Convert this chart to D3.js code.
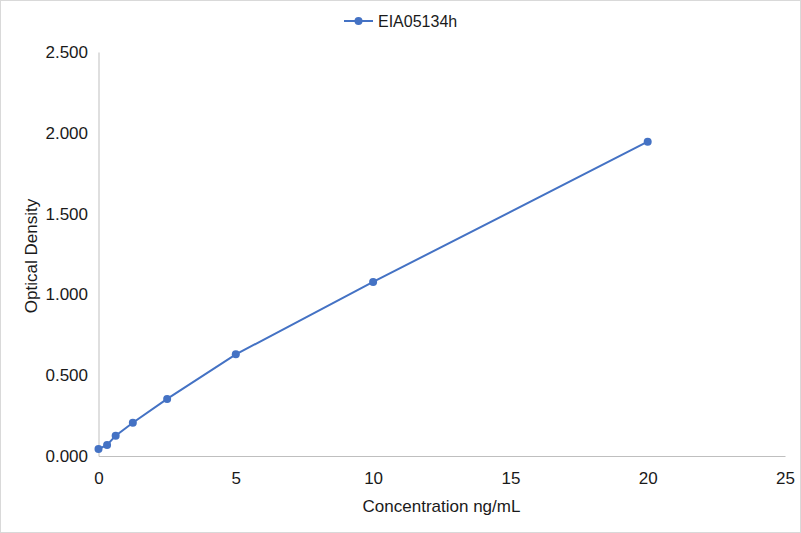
<!DOCTYPE html>
<html><head><meta charset="utf-8">
<script src="https://cdn.jsdelivr.net/npm/d3@7"></script>
<style>body{margin:0;background:#fff}svg{display:block}</style>
</head><body>
<script>
const seriesName = "EIA05134h";
const concentrations = [0, 0.3125, 0.625, 1.25, 2.5, 5, 10, 20];
const densities = [0.043, 0.068, 0.126, 0.206, 0.353, 0.629, 1.077, 1.945];
const xTicks = [0, 5, 10, 15, 20, 25];
const yTicks = [0, 0.5, 1, 1.5, 2, 2.5];
const xTitle = "Concentration ng/mL";
const yTitle = "Optical Density";

const W = 801, H = 533;
const m = {left: 98.5, right: 785, top: 52, bottom: 456};
const color = "#4472c4";
const textColor = "#1a1a1a";
const font = "Liberation Sans, Arial, sans-serif";

const svg = d3.select("body").append("svg").attr("width", W).attr("height", H);
svg.append("rect").attr("x",0.5).attr("y",0.5).attr("width",W-1).attr("height",H-1)
  .attr("fill","#fff").attr("stroke","#d9d9d9");

const x = d3.scaleLinear().domain([0,25]).range([m.left, m.right]);
const y = d3.scaleLinear().domain([0,2.5]).range([m.bottom, m.top]);

const xAxis = svg.append("g").attr("transform",`translate(0,${m.bottom})`)
  .call(d3.axisBottom(x).tickValues(xTicks).tickSize(0).tickFormat(d3.format("d")));
const yAxis = svg.append("g").attr("transform",`translate(${m.left},0)`)
  .call(d3.axisLeft(y).tickValues(yTicks).tickSize(0).tickPadding(10.5).tickFormat(d3.format(".3f")));
[xAxis, yAxis].forEach(a => {
  a.select(".domain").attr("stroke","#bfbfbf").attr("stroke-width",1);
  a.selectAll("text").attr("font-family",font).attr("font-size",17).attr("fill",textColor);
});
xAxis.selectAll("text").attr("y",28).attr("dy","0");

const line = d3.line().x((d,i)=>x(concentrations[i])).y(d=>y(d));
svg.append("path").datum(densities).attr("d",line).attr("fill","none")
  .attr("stroke",color).attr("stroke-width",2);
svg.selectAll("circle.pt").data(densities).join("circle").attr("class","pt")
  .attr("cx",(d,i)=>x(concentrations[i])).attr("cy",d=>y(d)).attr("r",4).attr("fill",color);

svg.append("text").attr("x",441.5).attr("y",512).attr("text-anchor","middle")
  .attr("font-family",font).attr("font-size",17).attr("fill",textColor).text(xTitle);
svg.append("text").attr("transform",`translate(36.5,${(m.top+m.bottom)/2+2}) rotate(-90)`)
  .attr("text-anchor","middle").attr("font-family",font).attr("font-size",17).attr("fill",textColor).text(yTitle);

const lg = svg.append("g");
lg.append("line").attr("x1",344).attr("x2",373).attr("y1",21).attr("y2",21).attr("stroke",color).attr("stroke-width",2);
lg.append("circle").attr("cx",358.5).attr("cy",21).attr("r",4).attr("fill",color);
lg.append("text").attr("x",378).attr("y",27).attr("font-family",font).attr("font-size",16).attr("fill",textColor).text(seriesName);
</script>
</body></html>
